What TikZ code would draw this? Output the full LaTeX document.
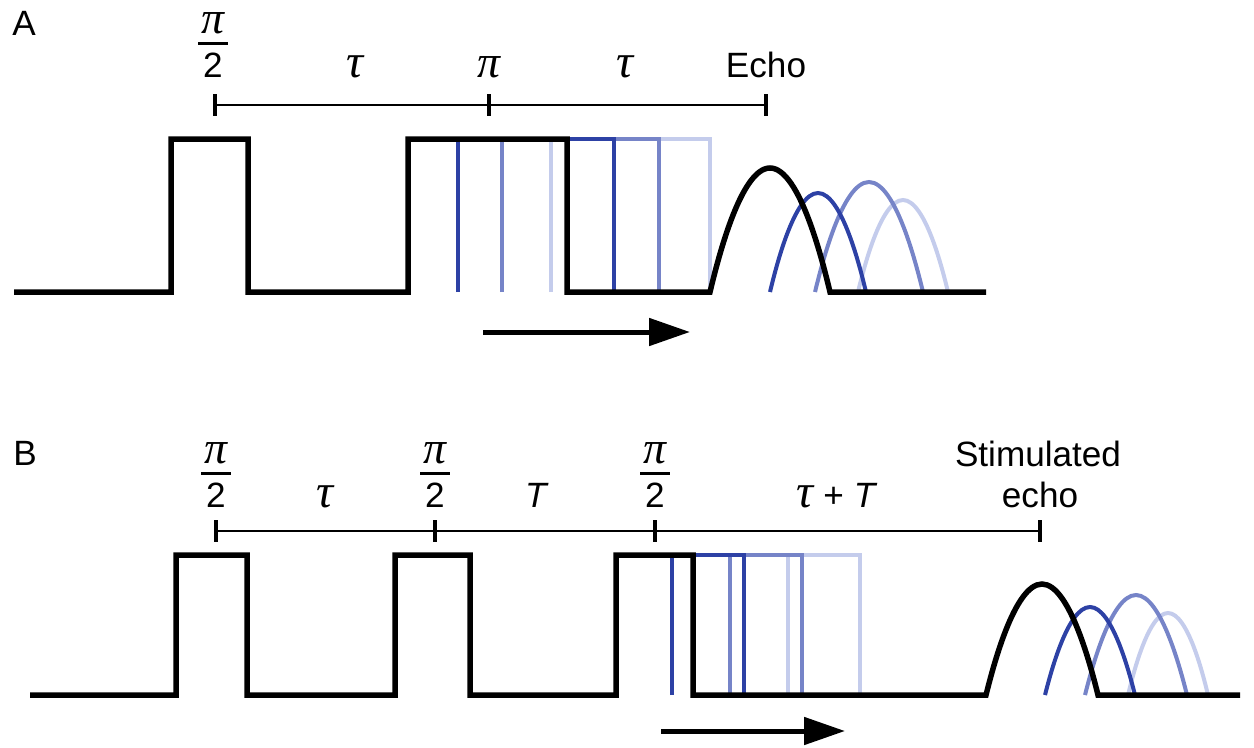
\documentclass[tikz,border=0pt]{standalone}
\usepackage{fontspec}
\setmainfont{Liberation Sans}
\newfontfamily\grk{Liberation Serif}
\usetikzlibrary{arrows.meta}
\definecolor{echodark}{RGB}{45,65,165}
\definecolor{echomid}{RGB}{118,132,200}
\definecolor{echolight}{RGB}{196,204,236}
\newcommand{\grtau}{{\grk\itshape\fontsize{27}{29}\selectfont τ}}
\newcommand{\grpi}{{\grk\itshape\fontsize{26}{28}\selectfont π}}
\newcommand{\halfpi}{\vbox{\halign{\hfil##\hfil\cr
    \hskip2pt\grpi\hskip2pt\cr
    \noalign{\vskip4.5pt\hrule height1.5pt\vskip4.5pt}
    2\cr}}}

\begin{document}
\begin{tikzpicture}[x=0.02cm, y=-0.02cm,
    pulse/.style={line width=0.11cm, black, line join=miter},
    shifted/.style={line width=0.08cm},
    timeline/.style={line width=1.4pt},
    tick/.style={line width=2pt},
    lbl/.style={font=\fontsize{20}{23}\selectfont, inner sep=0pt},
    move/.style={line width=0.1cm, -{Triangle[length=0.82cm,width=0.54cm]}}
]
\useasboundingbox (0,0) rectangle (1254,747);

% panel A: spin echo
\node[lbl, anchor=base west] (labA) at (12,35) {A};
\draw[shifted, echolight] (551,292) |- (710,139) -- (710,292);
\draw[shifted, echomid] (502,292) |- (659,139) -- (659,292);
\draw[shifted, echodark] (458,292) |- (614,139) -- (614,292);
\draw[shifted, echolight] (858,292) parabola bend (903,200) (948,292);
\draw[shifted, echomid] (815,292) parabola bend (869,182) (923,292);
\draw[shifted, echodark] (770,292) parabola bend (818,193) (866,292);
\draw[pulse] (14,292) -| (171,139) -| (248,292) -| (408,139) -| (567,292)
    -- (710,292) parabola bend (770,168) (830,292) -- (986,292);

\coordinate (a0) at (215,105);
\coordinate (a1) at (489,105);
\coordinate (a2) at (766,105);
\draw[timeline] (a0) -- (a2);
\foreach \t in {a0,a1,a2}
    \draw[tick] (\t) ++(0,-11) -- ++(0,22);
\node[lbl, anchor=base] (halfA) at (213,77) {\halfpi};
\node[lbl, anchor=base] (tauA1) at (355,77) {\grtau};
\node[lbl, anchor=base] (piA) at (489,77) {\grpi};
\node[lbl, anchor=base] (tauA2) at (625,77) {\grtau};
\node[lbl, anchor=base] (echoA) at (766,77) {Echo};

\coordinate (mvA0) at (483,332);
\coordinate (mvA1) at (690,332);
\draw[move] (mvA0) -- (mvA1);

% panel B: stimulated echo
\node[lbl, anchor=base west] (labB) at (13,465) {B};
\draw[shifted, echolight] (788,695) |- (860,555) -- (860,695);
\draw[shifted, echomid] (730,695) |- (802,555) -- (802,695);
\draw[shifted, echodark] (672,695) |- (744,555) -- (744,695);
\draw[shifted, echolight] (1128,695) parabola bend (1168,613) (1208,695);
\draw[shifted, echomid] (1085,695) parabola bend (1136,595) (1187,695);
\draw[shifted, echodark] (1045,695) parabola bend (1090,607) (1135,695);
\draw[pulse] (30,695) -| (176,555) -| (247,695) -| (395,555) -| (470,695)
    -| (616,555) -| (693,695) -- (986,695) parabola bend (1042,584) (1098,695)
    -- (1240,695);

\coordinate (b0) at (216,531);
\coordinate (b1) at (435,531);
\coordinate (b2) at (655,531);
\coordinate (b3) at (1040,531);
\draw[timeline] (b0) -- (b3);
\foreach \t in {b0,b1,b2,b3}
    \draw[tick] (\t) ++(0,-11) -- ++(0,22);
\node[lbl, anchor=base] (halfB1) at (216,507) {\halfpi};
\node[lbl, anchor=base] (halfB2) at (435,507) {\halfpi};
\node[lbl, anchor=base] (halfB3) at (655,507) {\halfpi};
\node[lbl, anchor=base] (tauB) at (325,507) {\grtau};
\node[lbl, anchor=base] (bigT) at (537,507) {\textit{T}};
\node[lbl, anchor=base] (tauT) at (837,507) {\grtau{} + \textit{T}};
\node[lbl, anchor=base] (stim) at (1038,466) {Stimulated};
\node[lbl, anchor=base] (echoB) at (1040,507) {echo};

\coordinate (mvB0) at (661,731);
\coordinate (mvB1) at (845,731);
\draw[move] (mvB0) -- (mvB1);
\end{tikzpicture}
\end{document}
